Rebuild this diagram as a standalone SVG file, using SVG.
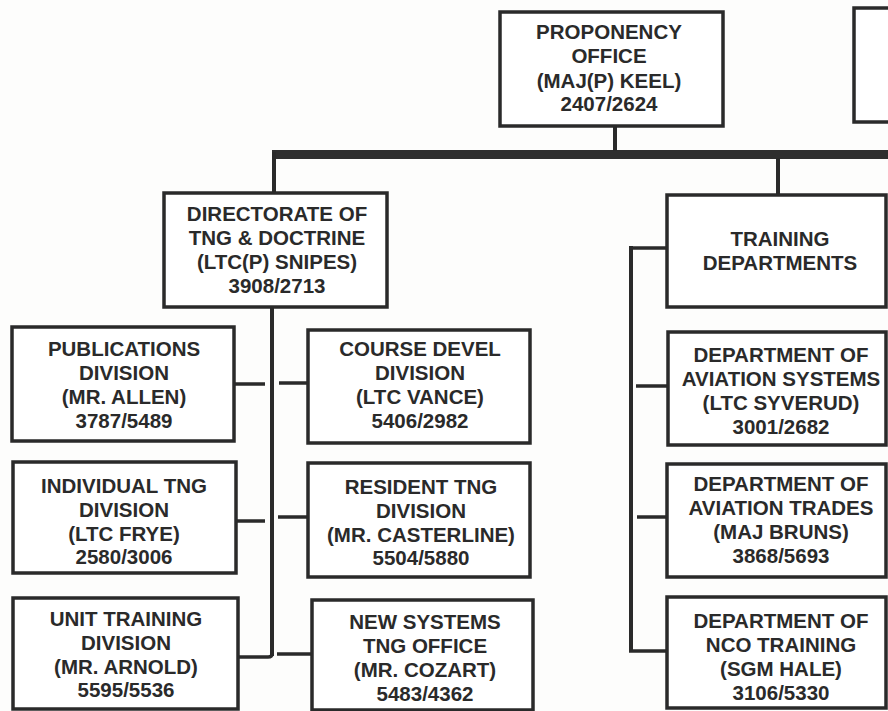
<svg xmlns="http://www.w3.org/2000/svg" width="888" height="711" viewBox="0 0 888 711">
<style>
.box{fill:#ffffff;stroke:#2a2a2a;stroke-width:3.5}
.t{font-family:"Liberation Sans",Arial,Helvetica,sans-serif;font-weight:bold;font-size:20.5px;fill:#2a2a2a;text-anchor:middle}
.ln{stroke:#2a2a2a;stroke-width:4;fill:none}
.st{stroke:#2a2a2a;stroke-width:3.5;fill:none}
</style>
<rect x="0" y="0" width="888" height="711" fill="#fdfdfc"/>
<g id="connectors">
<rect x="272" y="150" width="616" height="9" fill="#2e2e2e"/>
<line class="ln" x1="615" y1="126" x2="615" y2="151"/>
<line class="ln" x1="274" y1="152" x2="274" y2="194"/>
<line class="ln" x1="778" y1="158" x2="778" y2="195"/>
<line class="ln" x1="272" y1="307" x2="272" y2="656"/>
<line class="st" x1="234" y1="384" x2="265" y2="384"/>
<line class="st" x1="279" y1="383" x2="308" y2="383"/>
<line class="st" x1="236" y1="521" x2="265" y2="521"/>
<line class="st" x1="278" y1="517" x2="308" y2="517"/>
<path class="st" d="M238,657 L268,657 Q272,657 272,654"/>
<line class="st" x1="277" y1="654" x2="312" y2="654"/>
<line class="ln" x1="631" y1="246" x2="631" y2="652"/>
<line class="st" x1="629" y1="248" x2="667" y2="248"/>
<line class="st" x1="636" y1="386" x2="668" y2="386"/>
<line class="st" x1="637" y1="517" x2="667" y2="517"/>
<line class="st" x1="629" y1="651" x2="667" y2="651"/>
</g>
<g id="proponency">
<rect class="box" x="500" y="12" width="223" height="114"/>
<text class="t" x="609" y="39">PROPONENCY</text>
<text class="t" x="609" y="63">OFFICE</text>
<text class="t" x="609" y="88">(MAJ(P) KEEL)</text>
<text class="t" x="609" y="111">2407/2624</text>
</g>
<g id="topright">
<rect class="box" x="854" y="8" width="50" height="114"/>
</g>
<g id="directorate">
<rect class="box" x="164" y="193" width="223" height="114"/>
<text class="t" x="277" y="221">DIRECTORATE OF</text>
<text class="t" x="277" y="245">TNG &amp; DOCTRINE</text>
<text class="t" x="277" y="269">(LTC(P) SNIPES)</text>
<text class="t" x="277" y="293">3908/2713</text>
</g>
<g id="training-departments">
<rect class="box" x="667" y="195" width="219" height="112"/>
<text class="t" x="780" y="246">TRAINING</text>
<text class="t" x="780" y="270">DEPARTMENTS</text>
</g>
<g id="publications">
<rect class="box" x="12" y="327" width="222" height="114"/>
<text class="t" x="124" y="356">PUBLICATIONS</text>
<text class="t" x="124" y="380">DIVISION</text>
<text class="t" x="124" y="404">(MR. ALLEN)</text>
<text class="t" x="124" y="428">3787/5489</text>
</g>
<g id="individual">
<rect class="box" x="13" y="462" width="223" height="111"/>
<text class="t" x="124" y="493">INDIVIDUAL TNG</text>
<text class="t" x="124" y="517">DIVISION</text>
<text class="t" x="124" y="541">(LTC FRYE)</text>
<text class="t" x="124" y="564">2580/3006</text>
</g>
<g id="unit-training">
<rect class="box" x="13" y="598" width="225" height="111"/>
<text class="t" x="126" y="626">UNIT TRAINING</text>
<text class="t" x="126" y="650">DIVISION</text>
<text class="t" x="126" y="674">(MR. ARNOLD)</text>
<text class="t" x="126" y="697">5595/5536</text>
</g>
<g id="course-devel">
<rect class="box" x="308" y="330" width="222" height="113"/>
<text class="t" x="420" y="356">COURSE DEVEL</text>
<text class="t" x="420" y="380">DIVISION</text>
<text class="t" x="420" y="404">(LTC VANCE)</text>
<text class="t" x="420" y="428">5406/2982</text>
</g>
<g id="resident">
<rect class="box" x="308" y="463" width="222" height="114"/>
<text class="t" x="421" y="494">RESIDENT TNG</text>
<text class="t" x="421" y="518">DIVISION</text>
<text class="t" x="421" y="542">(MR. CASTERLINE)</text>
<text class="t" x="421" y="565">5504/5880</text>
</g>
<g id="new-systems">
<rect class="box" x="312" y="600" width="221" height="110"/>
<text class="t" x="425" y="629">NEW SYSTEMS</text>
<text class="t" x="425" y="653">TNG OFFICE</text>
<text class="t" x="425" y="677">(MR. COZART)</text>
<text class="t" x="425" y="701">5483/4362</text>
</g>
<g id="aviation-systems">
<rect class="box" x="668" y="332" width="218" height="113"/>
<text class="t" x="781" y="362">DEPARTMENT OF</text>
<text class="t" x="781" y="386">AVIATION SYSTEMS</text>
<text class="t" x="781" y="410">(LTC SYVERUD)</text>
<text class="t" x="781" y="434">3001/2682</text>
</g>
<g id="aviation-trades">
<rect class="box" x="667" y="464" width="219" height="113"/>
<text class="t" x="781" y="491">DEPARTMENT OF</text>
<text class="t" x="781" y="515">AVIATION TRADES</text>
<text class="t" x="781" y="539">(MAJ BRUNS)</text>
<text class="t" x="781" y="563">3868/5693</text>
</g>
<g id="nco-training">
<rect class="box" x="667" y="597" width="219" height="111"/>
<text class="t" x="781" y="628">DEPARTMENT OF</text>
<text class="t" x="781" y="652">NCO TRAINING</text>
<text class="t" x="781" y="676">(SGM HALE)</text>
<text class="t" x="781" y="700">3106/5330</text>
</g>
</svg>
